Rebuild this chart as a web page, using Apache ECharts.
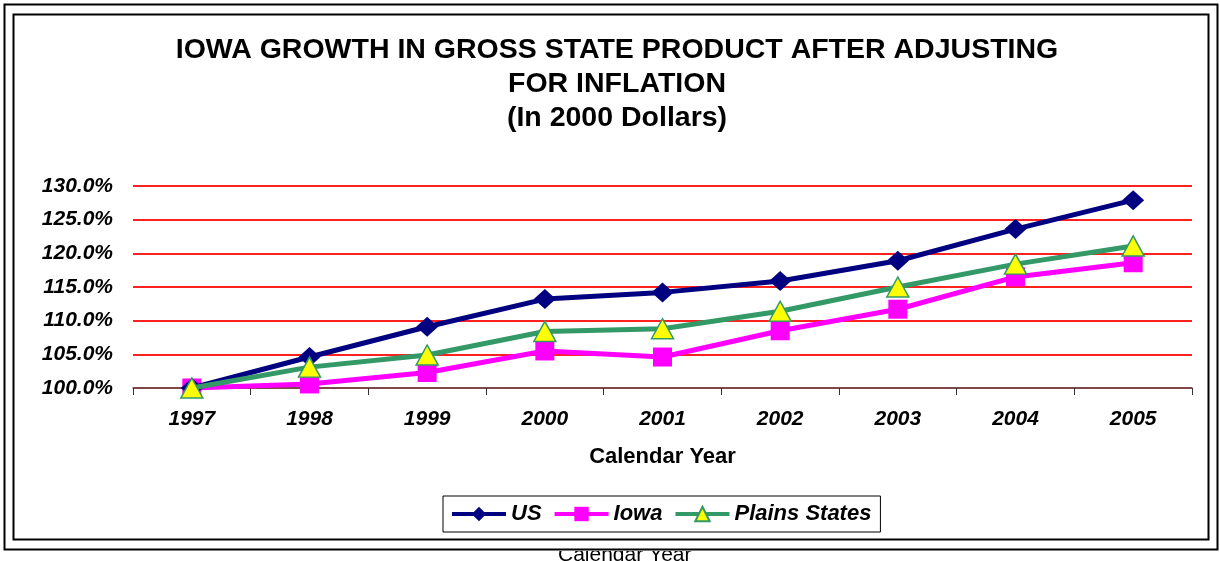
<!DOCTYPE html>
<html>
<head>
<meta charset="utf-8">
<script src="https://cdn.jsdelivr.net/npm/echarts@6/dist/echarts.min.js"></script>
<style>
  html, body { margin: 0; padding: 0; background: #fff; }
  #chart { width: 1220px; height: 561px; }
</style>
</head>
<body>
<div id="chart"></div>
<script>
var years = ['1997', '1998', '1999', '2000', '2001', '2002', '2003', '2004', '2005'];
var usValues = [100.0, 104.6, 109.1, 113.2, 114.2, 115.9, 118.9, 123.6, 127.9];
var iowaValues = [100.0, 100.6, 102.3, 105.5, 104.6, 108.5, 111.7, 116.5, 118.6];
var plainsValues = [100.0, 103.1, 104.9, 108.4, 108.8, 111.4, 115.0, 118.4, 121.1];

var chart = echarts.init(document.getElementById('chart'));
var boldItalic = { fontFamily: 'Liberation Sans', fontWeight: 'bold', fontStyle: 'italic', color: '#000' };

chart.setOption({
  animation: false,
  backgroundColor: '#fff',
  title: {
    text: 'IOWA GROWTH IN GROSS STATE PRODUCT AFTER ADJUSTING\nFOR INFLATION\n(In 2000 Dollars)',
    left: 612,
    top: 28,
    textAlign: 'center',
    textStyle: {
      fontFamily: 'Liberation Sans',
      fontWeight: 'bold',
      fontSize: 28.5,
      lineHeight: 34,
      color: '#000'
    }
  },
  legend: {
    left: 443,
    top: 496,
    padding: [7, 9, 7, 7],
    borderColor: '#000',
    borderWidth: 1,
    itemWidth: 54,
    itemHeight: 18,
    itemGap: 11,
    lineStyle: { width: 4 },
    textStyle: Object.assign({ fontSize: 22, padding: [0, 0, 0, 0] }, boldItalic),
    data: ['US', 'Iowa', 'Plains States']
  },
  grid: { left: 133, right: 28, top: 186, bottom: 173 },
  xAxis: {
    type: 'category',
    data: years,
    boundaryGap: true,
    name: 'Calendar Year',
    nameLocation: 'middle',
    nameGap: 58,
    nameTextStyle: { fontFamily: 'Liberation Sans', fontWeight: 'bold', fontSize: 22, color: '#000' },
    axisLine: { lineStyle: { color: '#555', width: 1.5 } },
    axisTick: { show: true, length: 7, inside: false, lineStyle: { color: '#333' } },
    axisLabel: Object.assign({ fontSize: 21, margin: 21 }, boldItalic),
    splitLine: { show: false }
  },
  yAxis: {
    type: 'value',
    min: 100,
    max: 130,
    interval: 5,
    axisLine: { show: false },
    axisTick: { show: false },
    axisLabel: Object.assign({
      fontSize: 21,
      margin: 20,
      formatter: function (v) { return v.toFixed(1) + '%'; }
    }, boldItalic),
    splitLine: { lineStyle: { color: '#ff2020', width: 2 } }
  },
  series: [
    {
      name: 'US',
      type: 'line',
      data: usValues,
      symbol: 'diamond',
      symbolSize: [22, 20],
      lineStyle: { color: '#000080', width: 5 },
      itemStyle: { color: '#000080' },
      z: 3
    },
    {
      name: 'Iowa',
      type: 'line',
      data: iowaValues,
      symbol: 'rect',
      symbolSize: 19,
      lineStyle: { color: '#ff00ff', width: 5 },
      itemStyle: { color: '#ff00ff' },
      z: 2
    },
    {
      name: 'Plains States',
      type: 'line',
      data: plainsValues,
      symbol: 'triangle',
      symbolSize: [22, 20],
      lineStyle: { color: '#339966', width: 5 },
      itemStyle: { color: '#ffff00', borderColor: '#339966', borderWidth: 1.5 },
      z: 4
    }
  ],
  graphic: [
    {
      type: 'text',
      left: 558,
      top: 545,
      z: 1,
      style: { text: 'Calendar Year', fontFamily: 'Liberation Sans', fontSize: 21, fill: '#000' }
    },
    {
      type: 'rect',
      shape: { x: 0, y: 540, width: 1220, height: 11 },
      style: { fill: '#fff' },
      z: 2
    },
    {
      type: 'rect',
      shape: { x: 4.5, y: 4.5, width: 1213, height: 545 },
      style: { fill: null, stroke: '#000', lineWidth: 2 },
      z: 3
    },
    {
      type: 'rect',
      shape: { x: 13.5, y: 14.5, width: 1195, height: 525 },
      style: { fill: null, stroke: '#000', lineWidth: 2 },
      z: 3
    }
  ]
});
</script>
</body>
</html>
